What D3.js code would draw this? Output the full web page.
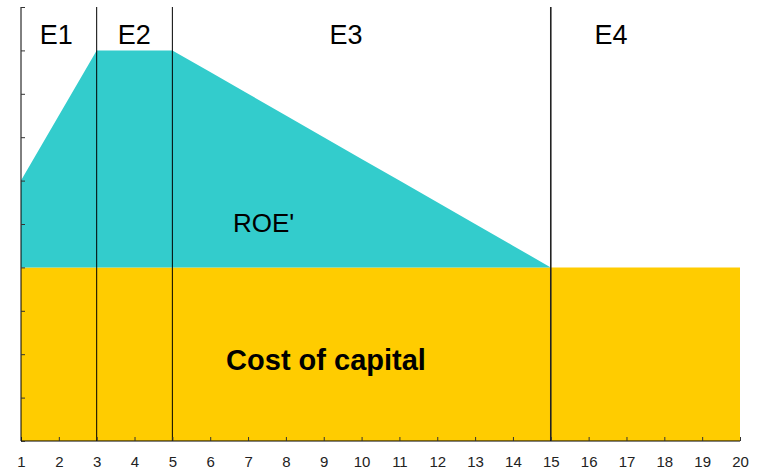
<!DOCTYPE html>
<html>
<head>
<meta charset="utf-8">
<script src="https://cdn.jsdelivr.net/npm/d3@7"></script>
<style>
  html, body { margin: 0; padding: 0; background: #fff; }
  svg { display: block; }
  text { font-family: "Liberation Sans", Arial, sans-serif; }
</style>
</head>
<body>
<svg id="chart" width="759" height="469"></svg>
<script>
// Years on the horizontal axis
const years = [1,2,3,4,5,6,7,8,9,10,11,12,13,14,15,16,17,18,19,20];
// Return on equity by year (defined up to year 15, where it meets the cost of capital)
const roeYears = [1, 3, 5, 6, 7, 8, 9, 10, 11, 12, 13, 14, 15];
const roeValues = [6, 9, 9, 8.5, 8, 7.5, 7, 6.5, 6, 5.5, 5, 4.5, 4];
// Cost of capital, constant over the whole horizon
const costOfCapital = [4,4,4,4,4,4,4,4,4,4,4,4,4,4,4,4,4,4,4,4];
// Phase boundaries and labels
const phaseBounds = [3, 5, 15];
const phaseLabels = ["E1", "E2", "E3", "E4"];
const phaseLabelX = [1.93, 3.99, 9.59, 16.59];
const yTicks = [0,1,2,3,4,5,6,7,8,9,10];

const svg = d3.select("#chart");
const x = d3.scaleLinear().domain([1, 20]).range([21, 740]);
const y = d3.scaleLinear().domain([0, 10]).range([441, 7]);

// Cost of capital band
const costData = years.map((yr, i) => ({ x: yr, v: costOfCapital[i] }));
svg.append("path")
  .datum(costData)
  .attr("fill", "#FFCC00")
  .attr("d", d3.area().x(d => x(d.x)).y0(y(0)).y1(d => y(d.v)));

// Excess return (ROE above the cost of capital)
const roeData = roeYears.map((yr, i) => ({ x: yr, v: roeValues[i], c: costOfCapital[years.indexOf(yr)] }));
svg.append("path")
  .datum(roeData)
  .attr("fill", "#33CCCC")
  .attr("d", d3.area().x(d => x(d.x)).y0(d => y(d.c)).y1(d => y(d.v)));

// Phase separators
svg.selectAll("line.phase")
  .data(phaseBounds)
  .join("line")
  .attr("class", "phase")
  .attr("x1", d => x(d)).attr("x2", d => x(d))
  .attr("y1", y(10)).attr("y2", y(0))
  .attr("stroke", (d, i) => i === 2 ? "#222" : "#000")
  .attr("stroke-width", (d, i) => i === 2 ? 1.6 : 1);

// Axes
const xAxis = d3.axisBottom(x).tickValues(years).tickSize(-4).tickPadding(15).tickFormat(d3.format("d"));
const gx = svg.append("g").attr("transform", `translate(0,${y(0)})`).call(xAxis);
gx.select(".domain").attr("stroke", "#000").attr("d", `M${x(1)},0H${x(20)}`);
gx.selectAll(".tick line").attr("stroke", "#333");
gx.selectAll(".tick text").attr("font-size", 15).attr("fill", "#222")
  .attr("font-family", "'Liberation Sans', Arial, sans-serif");

const yAxis = d3.axisLeft(y).tickValues(yTicks).tickSize(-4).tickFormat("");
const gy = svg.append("g").attr("transform", `translate(${x(1)},0)`).call(yAxis);
gy.select(".domain").attr("stroke", "#000").attr("d", `M0,${y(10)}V${y(0)}`);
gy.selectAll(".tick line").attr("stroke", "#333");

// Phase labels
svg.selectAll("text.phaseLabel")
  .data(phaseLabels)
  .join("text")
  .attr("class", "phaseLabel")
  .attr("x", (d, i) => x(phaseLabelX[i]))
  .attr("y", 44)
  .attr("text-anchor", "middle")
  .attr("font-size", 27)
  .attr("fill", "#000")
  .text(d => d);

// Area labels
svg.append("text")
  .attr("x", x(7.41)).attr("y", 232)
  .attr("text-anchor", "middle")
  .attr("font-size", 26).attr("fill", "#000")
  .text("ROE'");

svg.append("text")
  .attr("x", x(9.06)).attr("y", 370)
  .attr("text-anchor", "middle")
  .attr("font-size", 29).attr("font-weight", "bold").attr("fill", "#000")
  .text("Cost of capital");
</script>
</body>
</html>
